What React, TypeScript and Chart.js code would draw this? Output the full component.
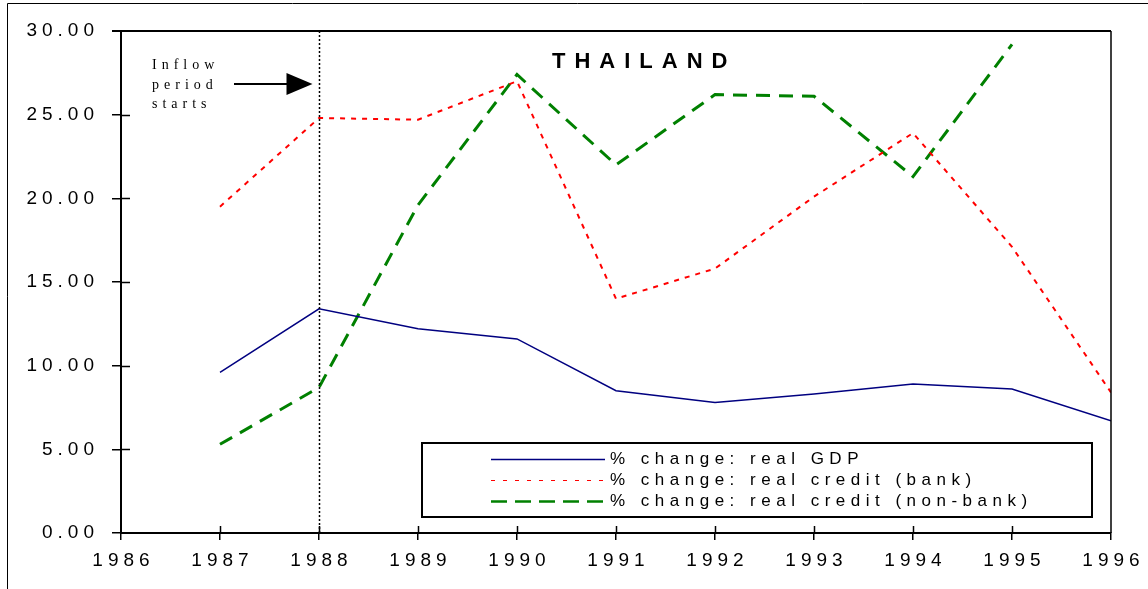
import React, { useEffect, useRef } from "react";
import { Chart, registerables } from "chart.js";

Chart.register(...registerables);

// ---- data ----
const years = [1987, 1988, 1989, 1990, 1991, 1992, 1993, 1994, 1995, 1996];
const gdpChange = [9.6, 13.4, 12.2, 11.6, 8.5, 7.8, 8.3, 8.9, 8.6, 6.7];
const bankCreditChange = [19.5, 24.8, 24.7, 27.0, 14.0, 15.8, 20.1, 23.9, 17.1, 8.4];
const nonBankCreditChange = [5.3, 8.7, 19.6, 27.4, 22.0, 26.2, 26.1, 21.3, 29.2, null];
const seriesLabels = [
  "% change: real GDP",
  "% change: real credit (bank)",
  "% change: real credit (non-bank)",
];
const xTickValues = [1986, 1987, 1988, 1989, 1990, 1991, 1992, 1993, 1994, 1995, 1996];
const yTickValues = [0, 5, 10, 15, 20, 25, 30];
const chartTitle = "THAILAND";
const noteLines = ["Inflow", "period", "starts"];
const inflowYear = 1988;

const FONT = "'Liberation Sans', Arial, Helvetica, sans-serif";
const SPACING = "5px";

const toPoints = (vals: (number | null)[]) =>
  years.map((y, i) => ({ x: y, y: vals[i] }));

const decorPlugin = {
  id: "decor",
  beforeUpdate(chart: any) {
    chart.ctx.letterSpacing = SPACING;
  },
  beforeDraw(chart: any) {
    chart.ctx.letterSpacing = SPACING;
  },
  afterDraw(chart: any) {
    const ctx = chart.ctx as CanvasRenderingContext2D & { letterSpacing: string };
    const { left, right, top, bottom } = chart.chartArea;
    const xs = chart.scales.x;
    const ys = chart.scales.y;
    ctx.save();

    // outer frame
    ctx.strokeStyle = "#000";
    ctx.lineWidth = 1;
    ctx.beginPath();
    ctx.moveTo(7.5, chart.height);
    ctx.lineTo(7.5, 3.5);
    ctx.lineTo(chart.width, 3.5);
    ctx.stroke();

    // top border with tick overhang
    ctx.lineWidth = 2;
    ctx.beginPath();
    ctx.moveTo(left - 9, top);
    ctx.lineTo(right, top);
    ctx.stroke();
    // right border
    ctx.lineWidth = 1.5;
    ctx.beginPath();
    ctx.moveTo(right, top);
    ctx.lineTo(right, bottom);
    ctx.stroke();

    // inner tick marks
    ctx.lineWidth = 1.5;
    ctx.beginPath();
    yTickValues.slice(1, -1).forEach((v) => {
      const py = Math.round(ys.getPixelForValue(v)) + 0.5;
      ctx.moveTo(left, py);
      ctx.lineTo(left + 9, py);
    });
    xTickValues.slice(1, -1).forEach((v) => {
      const px = Math.round(xs.getPixelForValue(v)) + 0.5;
      ctx.moveTo(px, bottom);
      ctx.lineTo(px, bottom - 7);
    });
    ctx.stroke();

    // dotted vertical line at inflow year
    const ix = Math.round(xs.getPixelForValue(inflowYear)) + 0.5;
    ctx.lineWidth = 1.5;
    ctx.setLineDash([2, 2]);
    ctx.beginPath();
    ctx.moveTo(ix, top);
    ctx.lineTo(ix, bottom);
    ctx.stroke();
    ctx.setLineDash([]);

    // annotation text
    ctx.fillStyle = "#000";
    ctx.font = "14px 'Liberation Serif', 'Times New Roman', serif";
    ctx.letterSpacing = "5px";
    ctx.textAlign = "left";
    ctx.textBaseline = "alphabetic";
    noteLines.forEach((t, i) => {
      ctx.fillText(t, 152, 69 + i * 19.5);
    });

    // arrow
    const tipX = ix - 7;
    const ay = 84;
    ctx.lineWidth = 2;
    ctx.beginPath();
    ctx.moveTo(234, ay);
    ctx.lineTo(tipX - 24, ay);
    ctx.stroke();
    ctx.beginPath();
    ctx.moveTo(tipX - 26, ay - 11);
    ctx.lineTo(tipX, ay);
    ctx.lineTo(tipX - 26, ay + 11);
    ctx.closePath();
    ctx.fill();

    // title
    ctx.font = `bold 22px ${FONT}`;
    ctx.letterSpacing = "9px";
    ctx.fillText(chartTitle, 552, 68);

    // legend
    const bx = 422, by = 443, bw = 670, bh = 74;
    ctx.fillStyle = "#fff";
    ctx.fillRect(bx, by, bw, bh);
    ctx.strokeStyle = "#000";
    ctx.lineWidth = 2;
    ctx.strokeRect(bx, by, bw, bh);
    ctx.font = `17px ${FONT}`;
    ctx.letterSpacing = "5.5px";
    ctx.textBaseline = "middle";
    const rows = [459, 480, 501];
    chart.data.datasets.forEach((ds: any, i: number) => {
      const ry = rows[i];
      ctx.strokeStyle = ds.borderColor;
      ctx.lineWidth = i === 2 ? 2.5 : i === 1 ? 1 : 1.5;
      ctx.setLineDash(i === 1 ? [4, 8] : i === 2 ? [16, 8] : []);
      ctx.beginPath();
      ctx.moveTo(491, ry + 0.5);
      ctx.lineTo(605, ry + 0.5);
      ctx.stroke();
      ctx.setLineDash([]);
      ctx.fillStyle = "#000";
      ctx.fillText(ds.label, 610, ry);
    });

    ctx.restore();
  },
};

export default function App() {
  const ref = useRef<HTMLCanvasElement | null>(null);
  useEffect(() => {
    if (!ref.current) return;
    Chart.defaults.font.family = FONT;
    const chart = new Chart(ref.current, {
      type: "line",
      data: {
        datasets: [
          {
            label: seriesLabels[0],
            data: toPoints(gdpChange),
            borderColor: "#000080",
            borderWidth: 1.5,
            pointRadius: 0,
            tension: 0,
          },
          {
            label: seriesLabels[1],
            data: toPoints(bankCreditChange),
            borderColor: "#ff0000",
            borderWidth: 2,
            borderDash: [5, 6],
            pointRadius: 0,
            tension: 0,
          },
          {
            label: seriesLabels[2],
            data: toPoints(nonBankCreditChange),
            borderColor: "#008000",
            borderWidth: 3,
            borderDash: [14, 9],
            pointRadius: 0,
            tension: 0,
            spanGaps: false,
          },
        ],
      },
      options: {
        animation: false,
        responsive: false,
        events: [],
        layout: { padding: { left: 0, top: 31, right: 37, bottom: 0 } },
        plugins: {
          legend: { display: false },
          title: { display: false },
          tooltip: { enabled: false },
        },
        scales: {
          x: {
            type: "linear",
            min: 1986,
            max: 1996,
            afterFit: (s: any) => {
              s.height = 56;
              s.paddingLeft = 0;
              s.paddingRight = 0;
            },
            afterBuildTicks: (s: any) => {
              s.ticks = xTickValues.map((v) => ({ value: v }));
            },
            ticks: {
              autoSkip: false,
              maxRotation: 0,
              padding: 9,
              labelOffset: 2.5,
              color: "#000",
              font: { size: 19 },
              callback: (v: any) => String(v),
            },
            grid: {
              display: true,
              drawOnChartArea: false,
              drawTicks: true,
              tickLength: 7,
              color: "#000",
              lineWidth: 1.5,
            },
            border: { display: true, color: "#000", width: 2 },
          },
          y: {
            type: "linear",
            min: 0,
            max: 30,
            afterFit: (s: any) => {
              s.width = 121;
              s.paddingTop = 0;
              s.paddingBottom = 0;
            },
            afterBuildTicks: (s: any) => {
              s.ticks = yTickValues.map((v) => ({ value: v }));
            },
            ticks: {
              padding: 13,
              color: "#000",
              font: { size: 19 },
              callback: (v: any) => Number(v).toFixed(2),
            },
            grid: {
              display: true,
              drawOnChartArea: false,
              drawTicks: true,
              tickLength: 9,
              color: "#000",
              lineWidth: 1.5,
            },
            border: { display: true, color: "#000", width: 2 },
          },
        },
      } as any,
      plugins: [decorPlugin],
    });
    return () => chart.destroy();
  }, []);

  return (
    <div
      style={{
        position: "fixed",
        left: 0,
        top: 0,
        width: 1148,
        height: 589,
        background: "#fff",
      }}
    >
      <canvas ref={ref} width={1148} height={589} style={{ display: "block" }} />
    </div>
  );
}
